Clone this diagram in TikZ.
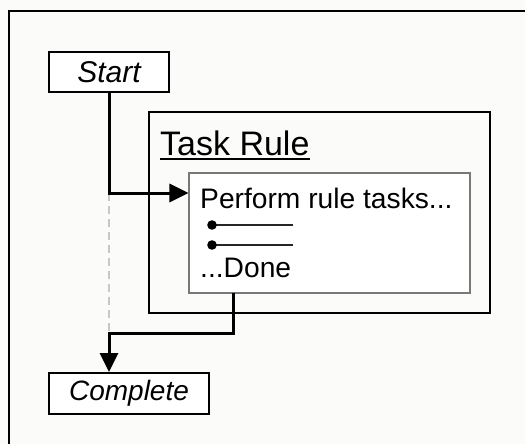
\documentclass[tikz,border=0pt]{standalone}
\usepackage{fontspec}
\setmainfont{Liberation Sans}
\usetikzlibrary{arrows.meta}
\definecolor{bgc}{RGB}{251,252,249}
\definecolor{innerc}{RGB}{120,120,120}
\definecolor{dashc}{RGB}{200,200,200}
\tikzset{
  termbox/.style={draw=black, line width=2pt, inner sep=0pt, fill=white},
  rulebox/.style={draw=black, line width=2pt, inner sep=0pt},
  innerbox/.style={draw=innerc, line width=1.1pt, inner sep=0pt, fill=white},
  bodytext/.style={inner sep=0pt, font=\fontsize{28.2}{31}\selectfont},
  flow/.style={draw=black, line width=3pt, -{Triangle[length=19pt,width=18pt]}},
  ghost/.style={draw=dashc, line width=2.2pt, dash pattern=on 8pt off 5pt},
  bulletline/.style={draw=black!85, line width=1.8pt}
}
\begin{document}
\begin{tikzpicture}[x=1pt,y=-1pt]
\useasboundingbox (0,0) rectangle (525,444);
\fill[bgc] (0,0) rectangle (525,444);
\begin{scope}
\clip (0,0) rectangle (525,444);
\draw[line width=2.2pt] (9,460) -- (9,11) -- (540,11);
\end{scope}
% boxes
\node[rulebox, minimum width=341pt, minimum height=201pt] (rule) at (319.5,212.5) {};
\node[innerbox, minimum width=281pt, minimum height=120pt] (inner) at (329.5,233) {};
\node[termbox, minimum width=120pt, minimum height=40pt] (start) at (109,72) {\fontsize{30}{33}\selectfont\itshape Start};
\node[termbox, minimum width=160pt, minimum height=41pt] (complete) at (129,393.5) {\fontsize{28}{31}\selectfont\itshape Complete};
% texts
\node[inner sep=0pt, anchor=base west, font=\fontsize{34}{37}\selectfont] (title) at (160,155) {Task Rule};
\draw[line width=2pt] ([yshift=-4pt]title.base west) -- ([yshift=-4pt]title.base east);
\node[bodytext, anchor=base west] (perform) at (200,208) {Perform rule tasks...};
\node[bodytext, anchor=base west] (done) at (200,277) {...Done};
% bullets
\coordinate (b1) at (212,225);
\coordinate (b2) at (212,245);
\coordinate (b1e) at (293,225);
\coordinate (b2e) at (293,245);
\draw[bulletline] (b1) -- (b1e);
\draw[bulletline] (b2) -- (b2e);
\fill (b1) circle (4.8pt);
\fill (b2) circle (4.8pt);
% connectors
\coordinate (j1) at (109,193);
\coordinate (j2) at (109,333);
\coordinate (d) at (233,293);
\draw[ghost] (j1) -- (j2);
\draw[flow] (start.south) -- (j1) -- (inner.west |- j1);
\draw[flow] (d) |- (j2) -- (complete.north -| j2);
\end{tikzpicture}
\end{document}
